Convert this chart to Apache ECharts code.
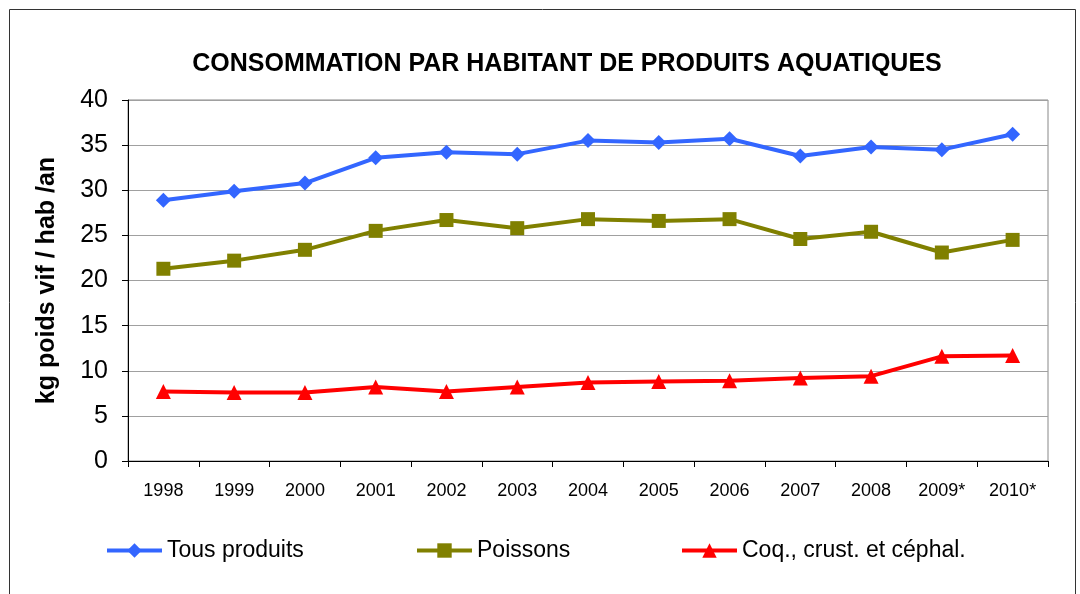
<!DOCTYPE html>
<html>
<head>
<meta charset="utf-8">
<script src="https://cdn.jsdelivr.net/npm/echarts@6/dist/echarts.min.js"></script>
<style>
  html, body { margin: 0; padding: 0; background: #fff; }
  #chart { width: 1080px; height: 594px; }
</style>
</head>
<body>
<div id="chart"></div>
<script>
var years = ['1998', '1999', '2000', '2001', '2002', '2003', '2004', '2005', '2006', '2007', '2008', '2009*', '2010*'];
var tousProduits = [28.9, 29.9, 30.8, 33.6, 34.2, 34.0, 35.5, 35.3, 35.7, 33.8, 34.8, 34.5, 36.2];
var poissons = [21.3, 22.2, 23.4, 25.5, 26.7, 25.8, 26.8, 26.6, 26.8, 24.6, 25.4, 23.1, 24.5];
var coquillages = [7.7, 7.6, 7.6, 8.2, 7.7, 8.2, 8.7, 8.8, 8.9, 9.2, 9.4, 11.6, 11.7];

var font = 'Liberation Sans, Arial, sans-serif';
var chart = echarts.init(document.getElementById('chart'));

function legendAt(name, left) {
  return {
    data: [name],
    left: left,
    top: 534,
    itemWidth: 55,
    itemHeight: 18,
    lineStyle: { width: 4 },
    textStyle: { fontFamily: font, fontSize: 23, color: '#000' }
  };
}

chart.setOption({
  animation: false,
  backgroundColor: '#fff',
  title: {
    text: 'CONSOMMATION PAR HABITANT DE PRODUITS AQUATIQUES',
    left: 562,
    textAlign: 'center',
    top: 47,
    textStyle: { fontFamily: font, fontSize: 25, fontWeight: 'bold', color: '#000' }
  },
  graphic: [{
    type: 'rect',
    shape: { x: 9.5, y: 9.5, width: 1066, height: 620 },
    style: { fill: 'none', stroke: '#333', lineWidth: 1 }
  }],
  legend: [
    legendAt('Tous produits', 100),
    legendAt('Poissons', 410),
    legendAt('Coq., crust. et céphal.', 675)
  ],
  grid: {
    left: 128, right: 32, top: 100, bottom: 133,
    show: true, borderColor: '#888', borderWidth: 1
  },
  xAxis: {
    type: 'category',
    data: years,
    boundaryGap: true,
    axisLine: { lineStyle: { color: '#000', width: 1 } },
    axisTick: { show: true, interval: 0, length: 6, lineStyle: { color: '#000' } },
    axisLabel: { interval: 0, margin: 21, fontFamily: font, fontSize: 18, color: '#000' }
  },
  yAxis: {
    type: 'value',
    min: 0, max: 40, interval: 5,
    name: 'kg poids vif / hab /an',
    nameLocation: 'middle',
    nameRotate: 90,
    nameGap: 68,
    nameTextStyle: { fontFamily: font, fontSize: 25, fontWeight: 'bold', color: '#000' },
    axisLine: { show: true, lineStyle: { color: '#000', width: 1 } },
    axisTick: { show: true, length: 6, lineStyle: { color: '#000' } },
    axisLabel: { margin: 20, fontFamily: font, fontSize: 25, color: '#000' },
    splitLine: { lineStyle: { color: '#a0a0a0', width: 1 } }
  },
  series: [
    {
      name: 'Tous produits', type: 'line', data: tousProduits,
      symbol: 'diamond', symbolSize: 15,
      lineStyle: { color: '#3366ff', width: 4 },
      itemStyle: { color: '#3366ff' }
    },
    {
      name: 'Poissons', type: 'line', data: poissons,
      symbol: 'rect', symbolSize: 14,
      lineStyle: { color: '#808000', width: 4 },
      itemStyle: { color: '#808000' }
    },
    {
      name: 'Coq., crust. et céphal.', type: 'line', data: coquillages,
      symbol: 'triangle', symbolSize: 15,
      lineStyle: { color: '#ff0000', width: 4 },
      itemStyle: { color: '#ff0000' }
    }
  ]
});
</script>
</body>
</html>
